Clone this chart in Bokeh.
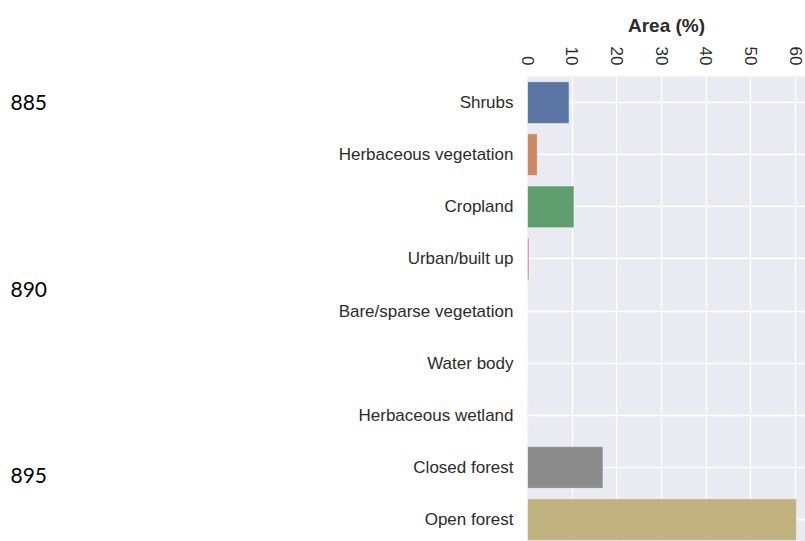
import math
from bokeh.plotting import figure
from bokeh.layouts import row
from bokeh.models import Range1d, FixedTicker, LinearAxis, ColumnDataSource, Grid
from bokeh.core.properties import value
from bokeh.embed import file_html
from bokeh.resources import INLINE

categories = ["Shrubs", "Herbaceous vegetation", "Cropland", "Urban/built up",
              "Bare/sparse vegetation", "Water body", "Herbaceous wetland",
              "Closed forest", "Open forest"]
area_pct = [9.3, 2.2, 10.4, 0.3, 0.0, 0.0, 0.05, 16.9, 60.2]
bar_colors = ["#5975a4", "#cc8963", "#5f9e6e", "#b55d60", "#857aab",
              "#8d7866", "#d095bf", "#8c8c8c", "#c1b37f"]
x_ticks = [0, 10, 20, 30, 40, 50, 60]
line_numbers = ["885", "890", "895"]
line_number_pos = [0.0, 3.59, 7.16]

FONT = "Liberation Sans"
TXT = "#2b2b2b"
LEFT_W = 100

ypos = list(range(len(categories)))
src = ColumnDataSource(dict(y=ypos, right=area_pct, color=bar_colors))

# left strip with document line numbers
q = figure(width=LEFT_W, height=541, output_backend="svg", toolbar_location=None,
           x_range=Range1d(0, LEFT_W), y_range=Range1d(8.42, -0.5),
           x_axis_location=None, y_axis_location=None,
           min_border_left=0, min_border_right=0, min_border_top=76,
           min_border_bottom=0)
q.outline_line_color = None
q.background_fill_color = "white"
q.xgrid.visible = False
q.ygrid.visible = False
q.text(x=[10] * len(line_numbers), y=line_number_pos, text=line_numbers,
       text_font=value("Lato"), text_font_size="21px", text_color="black",
       text_baseline="middle", text_align="left")

p = figure(width=805 - LEFT_W, height=541, output_backend="svg", toolbar_location=None,
           x_range=Range1d(0, 62.2), y_range=Range1d(8.42, -0.5),
           x_axis_location=None, y_axis_location=None,
           min_border_left=527 - LEFT_W, min_border_right=0, min_border_top=76,
           min_border_bottom=0)
p.background_fill_color = "#eaeaf2"
p.border_fill_color = "white"
p.outline_line_color = None

p.xgrid.grid_line_color = None
p.ygrid.grid_line_color = None
p.add_layout(Grid(dimension=0, ticker=FixedTicker(ticks=x_ticks), grid_line_color="white", grid_line_width=1.3))
p.add_layout(Grid(dimension=1, ticker=FixedTicker(ticks=ypos), grid_line_color="white", grid_line_width=1.3))

p.hbar(y="y", left=0, right="right", height=0.8, fill_color="color",
       line_color="white", line_width=0.7, line_alpha=0.7, source=src)

xa = LinearAxis(axis_label="Area (%)", ticker=FixedTicker(ticks=x_ticks))
xa.axis_line_color = None
xa.major_tick_line_color = None
xa.minor_tick_line_color = None
xa.major_tick_out = 0
xa.major_tick_in = 0
xa.major_label_standoff = 11
xa.major_label_orientation = -math.pi / 2
xa.major_label_text_font = FONT
xa.major_label_text_font_size = "17px"
xa.major_label_text_color = TXT
xa.axis_label_text_font = FONT
xa.axis_label_text_font_size = "19px"
xa.axis_label_text_font_style = "bold"
xa.axis_label_text_color = TXT
xa.axis_label_standoff = 8
p.add_layout(xa, "above")

ya = LinearAxis(ticker=FixedTicker(ticks=ypos))
ya.major_label_overrides = {i: c for i, c in enumerate(categories)}
ya.axis_line_color = None
ya.major_tick_line_color = None
ya.minor_tick_line_color = None
ya.major_tick_out = 0
ya.major_tick_in = 0
ya.major_label_standoff = 14
ya.major_label_text_font = FONT
ya.major_label_text_font_size = "17px"
ya.major_label_text_color = TXT
p.add_layout(ya, "left")

layout = row(q, p, spacing=0)
open("out.html", "w").write(file_html(layout, INLINE))
